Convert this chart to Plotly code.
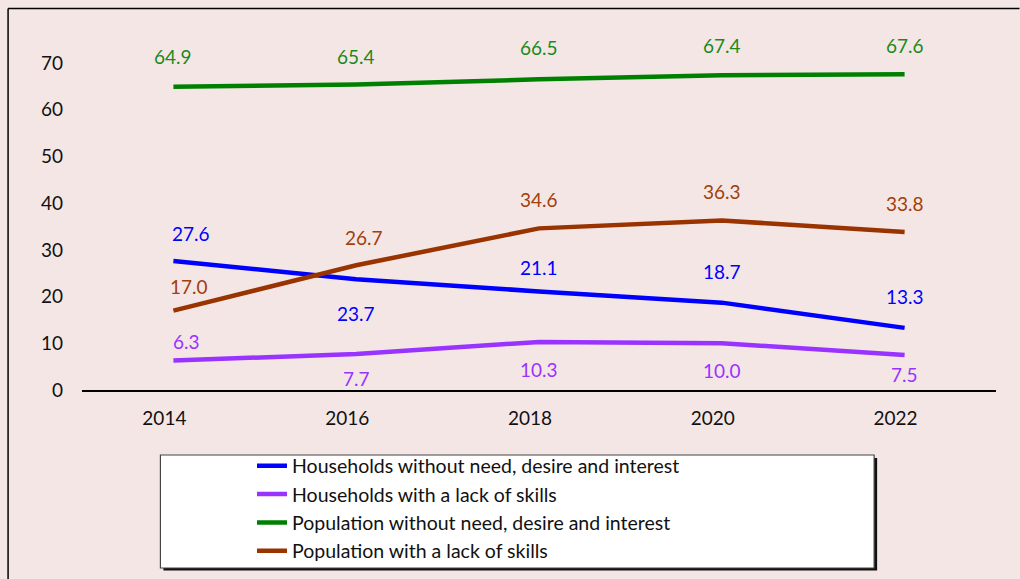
import plotly.graph_objects as go

# Survey years and shares (%) for each group
years = ["2014", "2016", "2018", "2020", "2022"]
households_no_need = [27.6, 23.7, 21.1, 18.7, 13.3]
households_no_skills = [6.3, 7.7, 10.3, 10.0, 7.5]
population_no_need = [64.9, 65.4, 66.5, 67.4, 67.6]
population_no_skills = [17.0, 26.7, 34.6, 36.3, 33.8]

series_names = [
    "Households without need, desire and interest",
    "Households with a lack of skills",
    "Population without need, desire and interest",
    "Population with a lack of skills",
]

# Styling
line_colors = ["#0000FF", "#9933FF", "#008000", "#993300"]
label_colors = ["#0000FF", "#9933FF", "#1A8A1A", "#A0400A"]
# Label offsets in pixels (positive = above the point)
label_dy = [
    [28, -34, 24, 31, 31],
    [19, -24, -28, -27, -20],
    [30, 28, 32, 30, 29],
    [24, 28, 29, 29, 29],
]
label_dx = [
    [18, 0, 0, 0, 0],
    [13, 0, 0, 0, 0],
    [0, 0, 0, 0, 0],
    [16, 8, 0, 0, 0],
]

FONT = "Lato"
BG = "#F5E6E6"
W, H = 1020, 579
ML, MR, MT, MB = 81.5, 23.5, 63, 189
PW, PH = W - ML - MR, H - MT - MB


def px_x(px):
    return (px - ML) / PW


def px_y(py):
    return (H - MB - py) / PH


all_series = [households_no_need, households_no_skills, population_no_need, population_no_skills]

fig = go.Figure()
for name, vals, col in zip(series_names, all_series, line_colors):
    fig.add_trace(go.Scatter(
        x=years, y=vals, name=name, mode="lines",
        line=dict(color=col, width=4.5),
        cliponaxis=False,
    ))

annotations = []
for vals, col, dys, dxs in zip(all_series, label_colors, label_dy, label_dx):
    for i, (v, dy, dx) in enumerate(zip(vals, dys, dxs)):
        # category index on the x axis
        annotations.append(dict(
            x=i, y=v, xref="x", yref="y", text=f"{v:.1f}", showarrow=False,
            yshift=dy, xshift=dx, font=dict(family=FONT, size=19, color=col),
        ))

shapes = [
    # outer frame: top and left edges
    dict(type="line", xref="paper", yref="paper",
         x0=px_x(7.5), x1=px_x(W), y0=px_y(8.5), y1=px_y(8.5),
         line=dict(color="black", width=1.5), layer="below"),
    dict(type="line", xref="paper", yref="paper",
         x0=px_x(7.5), x1=px_x(7.5), y0=px_y(8.5), y1=px_y(H),
         line=dict(color="black", width=1.5), layer="below"),
    # legend shadow
    dict(type="rect", xref="paper", yref="paper",
         x0=px_x(163), x1=px_x(877.5), y0=px_y(458), y1=px_y(570.5),
         line=dict(width=0), fillcolor="#111111", layer="below"),
    # legend box
    dict(type="rect", xref="paper", yref="paper",
         x0=px_x(160), x1=px_x(874.5), y0=px_y(455), y1=px_y(568),
         line=dict(color="#444444", width=1.2), fillcolor="white", layer="below"),
]

fig.update_layout(
    width=W, height=H,
    margin=dict(l=ML, r=MR, t=MT, b=MB, autoexpand=False),
    paper_bgcolor=BG, plot_bgcolor=BG,
    font=dict(family=FONT, size=19, color="#111111"),
    showlegend=True,
    legend=dict(
        xref="container", yref="container",
        x=252 / W, y=1 - 446.5 / H, xanchor="left", yanchor="top",
        bgcolor="rgba(0,0,0,0)", borderwidth=0,
        font=dict(family=FONT, size=19.5, color="#111111"),
    ),
    xaxis=dict(
        type="category", range=[-0.5, 4.5], showgrid=False, zeroline=False,
        showline=True, linecolor="black", linewidth=1.5, ticks="",
        ticklabelstandoff=10, ticklabelshift=-9, automargin=False,
        tickfont=dict(family=FONT, size=19, color="#111111"),
    ),
    yaxis=dict(
        range=[0, 70], dtick=10, tick0=0, showgrid=False, zeroline=False,
        showline=False, ticks="", ticklabelstandoff=18, automargin=False,
        tickfont=dict(family=FONT, size=19, color="#111111"),
    ),
    annotations=annotations,
    shapes=shapes,
)

fig.write_html("out.html")
